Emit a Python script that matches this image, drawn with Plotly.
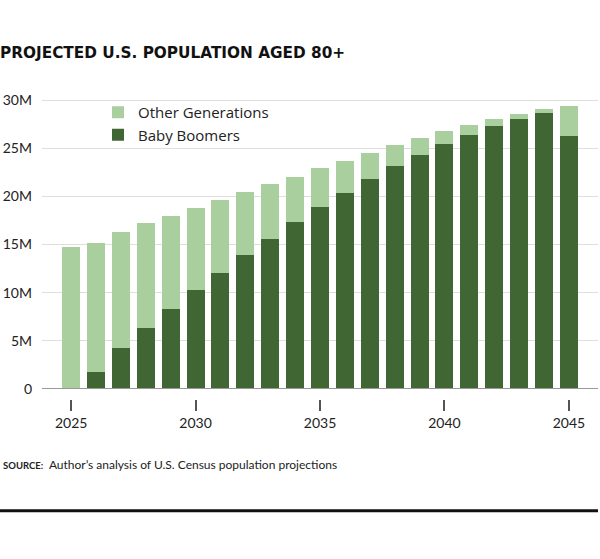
import plotly.graph_objects as go

years = list(range(2025, 2046))
baby_boomers = [0, 1.8, 4.22, 6.33, 8.3, 10.24, 12.08, 13.9, 15.6, 17.3, 18.9,
                20.38, 21.8, 23.12, 24.32, 25.4, 26.4, 27.3, 28.06, 28.68, 26.26]
other_generations = [14.77, 13.39, 12.11, 10.87, 9.7, 8.56, 7.51, 6.52, 5.65, 4.74, 4.0,
                     3.29, 2.7, 2.21, 1.77, 1.38, 1.04, 0.76, 0.52, 0.39, 3.15]
y_tickvals = [0, 5, 10, 15, 20, 25, 30]
y_ticktext = ["0", "5M", "10M", "15M", "20M", "25M", "30M"]
x_tickvals = [2025, 2030, 2035, 2040, 2045]

LIGHT = "#aacf9f"
DARK = "#406634"
FONT = "Lato"

W, H = 600, 559
ML, MR, MT, MB = 42, 2, 90, 139
PW = W - ML - MR
PH = H - MT - MB
base_px = 389
ydom0 = (H - MB - base_px) / PH


def py(pix):
    return (H - MB - pix) / PH


def px(pix):
    return (pix - ML) / PW


fig = go.Figure()
fig.add_trace(go.Bar(x=years, y=baby_boomers, name="Baby Boomers",
                     marker=dict(color=DARK, line=dict(width=0))))
fig.add_trace(go.Bar(x=years, y=other_generations, name="Other Generations",
                     marker=dict(color=LIGHT, line=dict(width=0))))

fig.update_layout(
    width=W, height=H,
    margin=dict(l=ML, r=MR, t=MT, b=MB),
    paper_bgcolor="white", plot_bgcolor="white",
    barmode="stack", bargap=0.28,
    showlegend=True,
    legend=dict(x=px(98), y=py(96), xanchor="left", yanchor="top",
                traceorder="reversed", bgcolor="rgba(0,0,0,0)",
                font=dict(family="Open Sans", size=15, color="#222"),
                itemclick=False, tracegroupgap=0),
    title=dict(text="<b>PROJECTED U.S. POPULATION AGED 80+</b>",
               x=0, xref="container", xanchor="left",
               y=1 - 53 / H, yref="container", yanchor="middle",
               font=dict(family="DejaVu Sans", size=15.3, color="#111")),
    xaxis=dict(range=[2023.83, 2046.17], tickvals=x_tickvals,
               ticktext=[str(v) for v in x_tickvals],
               anchor="free", position=py(399),
               showgrid=False, showline=False, zeroline=False,
               ticks="outside", ticklen=11, tickwidth=1.5, tickcolor="#555",
               tickfont=dict(family=FONT, size=14, color="#222")),
    yaxis=dict(range=[0, (base_px - MT) / 9.633], domain=[ydom0, 1],
               tickvals=y_tickvals, ticktext=y_ticktext,
               showgrid=True, gridcolor="#dedede", gridwidth=1,
               zeroline=False, showline=False, ticks="",
               ticklabelstandoff=9,
               tickfont=dict(family=FONT, size=14, color="#222")),
    shapes=[
        dict(type="line", xref="paper", yref="y", x0=0, x1=px(598), y0=0, y1=0,
             line=dict(color="#999", width=2), layer="above"),
        dict(type="line", xref="paper", yref="paper", x0=px(0), x1=px(598),
             y0=py(510.7), y1=py(510.7), line=dict(color="#111", width=3)),
    ],
    annotations=[
        dict(text="<b><span style='font-size:9.5px'>SOURCE:</span></b>  Author’s analysis of U.S. Census population projections",
             xref="paper", yref="paper", x=px(1), y=py(464),
             xanchor="left", yanchor="middle", showarrow=False,
             font=dict(family=FONT, size=12, color="#222")),
    ],
)

fig.write_html("out.html")
